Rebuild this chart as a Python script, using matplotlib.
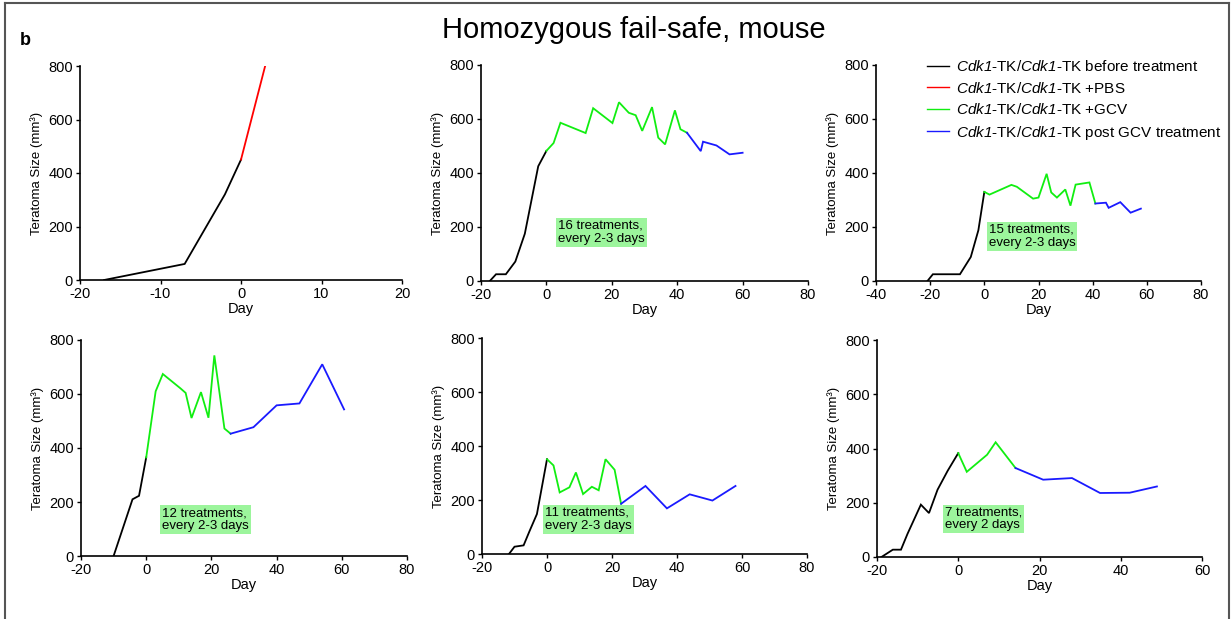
import matplotlib.pyplot as plt
from matplotlib.lines import Line2D

plt.rcParams['font.family'] = ['Liberation Sans', 'DejaVu Sans']
plt.rcParams['mathtext.fontset'] = 'custom'
plt.rcParams['mathtext.rm'] = 'Liberation Sans'
plt.rcParams['mathtext.sf'] = 'Liberation Sans:italic'
plt.rcParams['axes.unicode_minus'] = False

# colours of the four phases
C_BEFORE, C_PBS, C_GCV, C_POST = 'black', '#ff0000', '#11ee11', '#1a1aff'

# panel 1 (PBS control)
p1_before_day = [-17, -7, -2, 0]
p1_before_size = [0, 60, 320, 450]
p1_pbs_day = [0, 3]
p1_pbs_size = [450, 800]

# panel 2
p2_before_day = [-17.3, -15.4, -12.4, -9.5, -6.6, -2.5, 0]
p2_before_size = [0, 25, 25, 72, 175, 425, 482]
p2_gcv_day = [0, 2.2, 4.3, 12, 14.3, 20.2, 22.2, 25.2, 27.3, 29.3, 32.3, 34.2, 36.3, 39.3, 41, 43]
p2_gcv_size = [482, 511, 586, 548, 640, 585, 662, 623, 614, 556, 644, 531, 506, 632, 562, 549]
p2_post_day = [43, 47.2, 47.9, 52, 56, 60]
p2_post_size = [549, 481, 516, 502, 469, 475]

# panel 3
p3_before_day = [-21, -19, -9, -5, -2.2, 0]
p3_before_size = [0, 25, 25, 89, 188, 330]
p3_gcv_day = [0, 1.9, 10, 12, 18, 20, 23, 24.7, 26.8, 29.9, 31.8, 33.7, 38.8, 41]
p3_gcv_size = [330, 320, 356, 349, 305, 309, 397, 328, 309, 339, 279, 357, 365, 287]
p3_post_day = [41, 44.9, 45.9, 50.2, 54, 57.8]
p3_post_size = [287, 290, 271, 292, 253, 268]

# panel 4
p4_before_day = [-10, -4.2, -2.2, 0]
p4_before_size = [0, 210, 223, 365]
p4_gcv_day = [0, 2.9, 5.1, 10.5, 12.1, 13.9, 16.8, 19.1, 20.9, 24, 25.9]
p4_gcv_size = [365, 610, 674, 621, 604, 511, 607, 512, 743, 472, 453]
p4_post_day = [25.9, 32.9, 40, 47, 54, 60.7]
p4_post_size = [453, 477, 558, 565, 710, 543]

# panel 5
p5_before_day = [-11.7, -10, -7.2, -5.4, -3.1, 0]
p5_before_size = [0, 27, 32, 84, 148, 351]
p5_gcv_day = [0, 2, 3.9, 6.9, 8.9, 11.1, 13.8, 15.9, 18, 20.8, 22.8]
p5_gcv_size = [351, 328, 228, 247, 302, 222, 249, 236, 351, 312, 186]
p5_post_day = [22.8, 30.3, 36.9, 43.9, 50.9, 58]
p5_post_size = [186, 252, 169, 221, 198, 252]

# panel 6
p6_before_day = [-18.9, -16.1, -14.1, -12.5, -9.2, -7.2, -5.1, -2.6, 0]
p6_before_size = [0, 27, 27, 85, 193, 162, 248, 318, 383]
p6_gcv_day = [0, 2.1, 7.1, 9.2, 14.1]
p6_gcv_size = [383, 314, 377, 423, 328]
p6_post_day = [14.1, 20.9, 28, 34.9, 42.2, 48.9]
p6_post_size = [328, 285, 291, 236, 237, 260]

notes = [None, '16 treatments,\nevery 2-3 days', '15 treatments,\nevery 2-3 days',
         '12 treatments,\nevery 2-3 days', '11 treatments,\nevery 2-3 days',
         '7 treatments,\nevery 2 days']
note_pos = [None, (3.6, 180), (1.6, 165), (4.8, 134), (-0.6, 129), (-3.2, 140)]

x_ranges = [(-20, 20, 10), (-20, 80, 20), (-40, 80, 20),
            (-20, 80, 20), (-20, 80, 20), (-20, 60, 20)]

# axes boxes in pixels: left, right, top, bottom
W, H = 1231, 619
boxes = [(80, 402, 66, 280), (481, 808, 65, 281), (876, 1201, 65, 281),
         (81, 407, 340, 556), (482, 807, 338, 554), (877, 1202, 340, 557)]

series = [
    [(p1_before_day, p1_before_size, C_BEFORE), (p1_pbs_day, p1_pbs_size, C_PBS)],
    [(p2_before_day, p2_before_size, C_BEFORE), (p2_gcv_day, p2_gcv_size, C_GCV), (p2_post_day, p2_post_size, C_POST)],
    [(p3_before_day, p3_before_size, C_BEFORE), (p3_gcv_day, p3_gcv_size, C_GCV), (p3_post_day, p3_post_size, C_POST)],
    [(p4_before_day, p4_before_size, C_BEFORE), (p4_gcv_day, p4_gcv_size, C_GCV), (p4_post_day, p4_post_size, C_POST)],
    [(p5_before_day, p5_before_size, C_BEFORE), (p5_gcv_day, p5_gcv_size, C_GCV), (p5_post_day, p5_post_size, C_POST)],
    [(p6_before_day, p6_before_size, C_BEFORE), (p6_gcv_day, p6_gcv_size, C_GCV), (p6_post_day, p6_post_size, C_POST)],
]

fig = plt.figure(figsize=(12.31, 6.19), dpi=100)
axes = []
for i, (l, r, t, b) in enumerate(boxes):
    ax = fig.add_axes([l / W, 1 - b / H, (r - l) / W, (b - t) / H])
    for x, y, c in series[i]:
        ax.plot(x, y, color=c, lw=1.3, solid_joinstyle='miter')
    lo, hi, step = x_ranges[i]
    ax.set_xlim(lo, hi)
    ax.set_xticks(range(lo, hi + 1, step))
    ax.set_ylim(0, 800)
    ax.set_yticks([0, 200, 400, 600, 800])
    ax.spines[['top', 'right']].set_visible(False)
    for s in ('left', 'bottom'):
        ax.spines[s].set_linewidth(1.2)
    ax.tick_params(direction='out', length=3, width=1, labelsize=10.5, pad=2)
    ax.set_xlabel('Day', fontsize=10.5, labelpad=1)
    ax.set_ylabel('Teratoma Size (mm³)', fontsize=9.5, labelpad=4)
    if notes[i]:
        ax.text(note_pos[i][0], note_pos[i][1], notes[i], fontsize=9.5, va='center', ha='left',
                linespacing=1.1,
                bbox=dict(boxstyle='square,pad=0.15', fc='#9cf59c', ec='none'))
    axes.append(ax)

cdk = r'$\mathsf{Cdk1}$'
labels = [cdk + '-TK/' + cdk + '-TK before treatment',
          cdk + '-TK/' + cdk + '-TK +PBS',
          cdk + '-TK/' + cdk + '-TK +GCV',
          cdk + '-TK/' + cdk + '-TK post GCV treatment']
handles = [Line2D([], [], color=c, lw=1) for c in (C_BEFORE, C_PBS, C_GCV, C_POST)]
axes[2].legend(handles, labels, loc='upper left', bbox_to_anchor=(0.115, 1.09), frameon=False,
               fontsize=11, handlelength=1.4, handletextpad=0.5, labelspacing=0.42)

fig.text(0.515, 0.952, 'Homozygous fail-safe, mouse', fontsize=21, ha='center', va='center')
fig.text(0.016, 0.935, 'b', fontsize=13, fontweight='bold', ha='left', va='center')

# figure frame (open at the bottom)
fc = '#555555'
fig.add_artist(Line2D([5 / W, 5 / W], [0, 1 - 3 / H], color=fc, lw=1.5))
fig.add_artist(Line2D([5 / W, 1229 / W], [1 - 3 / H, 1 - 3 / H], color=fc, lw=1.5))
fig.add_artist(Line2D([1229 / W, 1229 / W], [0, 1 - 3 / H], color=fc, lw=1.5))

fig.savefig('out.png', dpi=100)
